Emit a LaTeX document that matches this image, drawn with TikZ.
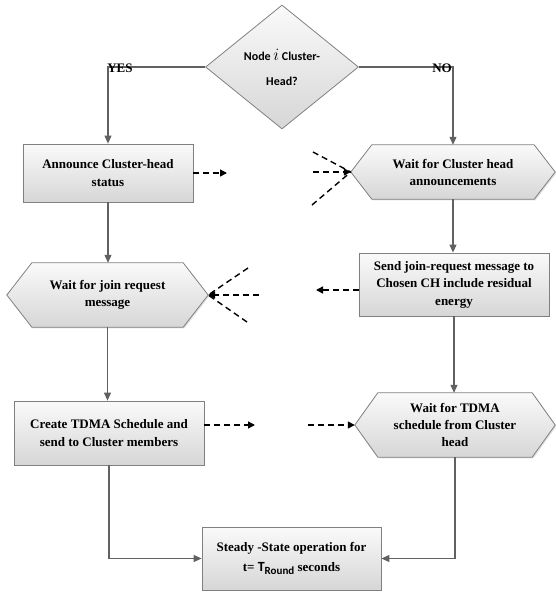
\documentclass[tikz,border=0pt]{standalone}
\usepackage{fontspec}
\setmainfont{Liberation Serif}
\newfontfamily\calibri{Carlito}
\usetikzlibrary{arrows.meta,calc,shadows,shapes.geometric,backgrounds}
\tikzset{
  shadefill/.style={top color=black!2, bottom color=black!16},
  boxnode/.style={rectangle, draw=black!50, line width=0.8pt, shadefill,
    drop shadow={opacity=0.25, shadow xshift=1.2pt, shadow yshift=-1.2pt},
    align=center, inner sep=0pt,
    font=\bfseries\fontsize{13}{17.5}\selectfont},
  hexnode/.style={rectangle, align=center, inner sep=0pt,
    font=\bfseries\fontsize{13}{17}\selectfont},
  hexpath/.style={draw=black!50, line width=0.8pt, shadefill,
    drop shadow={opacity=0.25, shadow xshift=1.2pt, shadow yshift=-1.2pt}},
  flow/.style={draw=black!62, line width=1.1pt, -{Triangle[width=7pt,length=8pt]}},
  dsh/.style={draw=black, line width=1.4pt, dash pattern=on 6pt off 4pt},
  dsharrow/.style={dsh, -{Triangle[width=7pt,length=7pt]}},
  yesno/.style={font=\bfseries\fontsize{13}{13}\selectfont, inner sep=0pt}
}
\newcommand\hexat[2]{%
  \path[hexpath] ([xshift=#2]#1.north west) -- ([xshift=-#2]#1.north east) -- (#1.east)
    -- ([xshift=-#2]#1.south east) -- ([xshift=#2]#1.south west) -- (#1.west) -- cycle;}
\begin{document}
\begin{tikzpicture}[x=1pt,y=-1pt]
\useasboundingbox (0,0) rectangle (556,592);

% decision
\node[diamond, draw=black!50, line width=0.8pt, shadefill,
  minimum width=153pt, minimum height=124pt, shape aspect=1.25, inner sep=0pt,
  align=center, font=\calibri\bfseries\fontsize{12}{25}\selectfont]
  (q) at (282,67) {Node {\fontsize{17}{17}\selectfont$i$} Cluster-\\Head?};

% left column
\node[boxnode, minimum width=170pt, minimum height=58pt] (b1) at (108,173)
  {Announce Cluster-head\\status};
\node[hexnode, minimum width=201pt, minimum height=64pt] (h2) at (107.5,295)
  {Wait for join request\\message};
\node[boxnode, minimum width=190pt, minimum height=64pt] (b3) at (109,433)
  {Create TDMA Schedule and\\send to Cluster members};

% right column
\node[hexnode, minimum width=204pt, minimum height=54pt] (h1) at (453,172)
  {Wait for Cluster head\\announcements};
\node[boxnode, minimum width=190pt, minimum height=63pt] (b2) at (454,284.5)
  {Send join-request message to\\Chosen CH include residual\\energy};
\node[hexnode, minimum width=200pt, minimum height=64pt] (h3) at (455,425)
  {Wait for TDMA\\schedule from Cluster\\head};

% final
\node[boxnode, minimum width=179pt, minimum height=63pt,
  font=\bfseries\fontsize{13}{20}\selectfont] (b4) at (291.5,558.5)
  {Steady -State operation for\\t= {\calibri\fontsize{14}{14}\selectfont T\raisebox{-3pt}{\fontsize{11}{11}\selectfont Round}} seconds};

\begin{scope}[on background layer]
  \hexat{h1}{21pt}
  \hexat{h2}{25pt}
  \hexat{h3}{23pt}
\end{scope}

% solid flow
\draw[flow] (q.west) -| (b1.north);
\draw[flow] (q.east) -| (h1.north);
\draw[flow] (b1.south) -- (b1.south |- h2.north);
\draw[flow] (h2.south) -- (h2.south |- b3.north);
\draw[flow] (h1.south) -- (h1.south |- b2.north);
\draw[flow] (b2.south) -- (b2.south |- h3.north);
\draw[flow] (b3.south) |- (b4.west);
\draw[flow] (h3.south) |- (b4.east);

% labels
\node[yesno] (yes) at (120,68) {YES};
\node[yesno] (no) at (442,68) {NO};

% dashed messages
\coordinate (d1) at (227,173);
\coordinate (u1) at (313,152);
\coordinate (m1) at (313,172);
\coordinate (l1) at (312,205);
\coordinate (d2) at (316,290);
\coordinate (u2) at (248,268);
\coordinate (m2) at (259,295);
\coordinate (l2) at (247,322);
\coordinate (d3) at (255,425);
\coordinate (s3) at (308,425);

\draw[dsharrow] (b1.east) -- (d1);
\draw[dsh] (u1) -- (h1.west);
\draw[dsh] (l1) -- (h1.west);
\draw[dsharrow] (m1) -- (h1.west);
\draw[dsharrow] (b2.west |- d2) -- (d2);
\draw[dsh] (u2) -- (h2.east);
\draw[dsh] (l2) -- (h2.east);
\draw[dsharrow] (m2) -- (h2.east);
\draw[dsharrow] (b3.east |- d3) -- (d3);
\draw[dsharrow] (s3) -- (h3.west);
\end{tikzpicture}
\end{document}
